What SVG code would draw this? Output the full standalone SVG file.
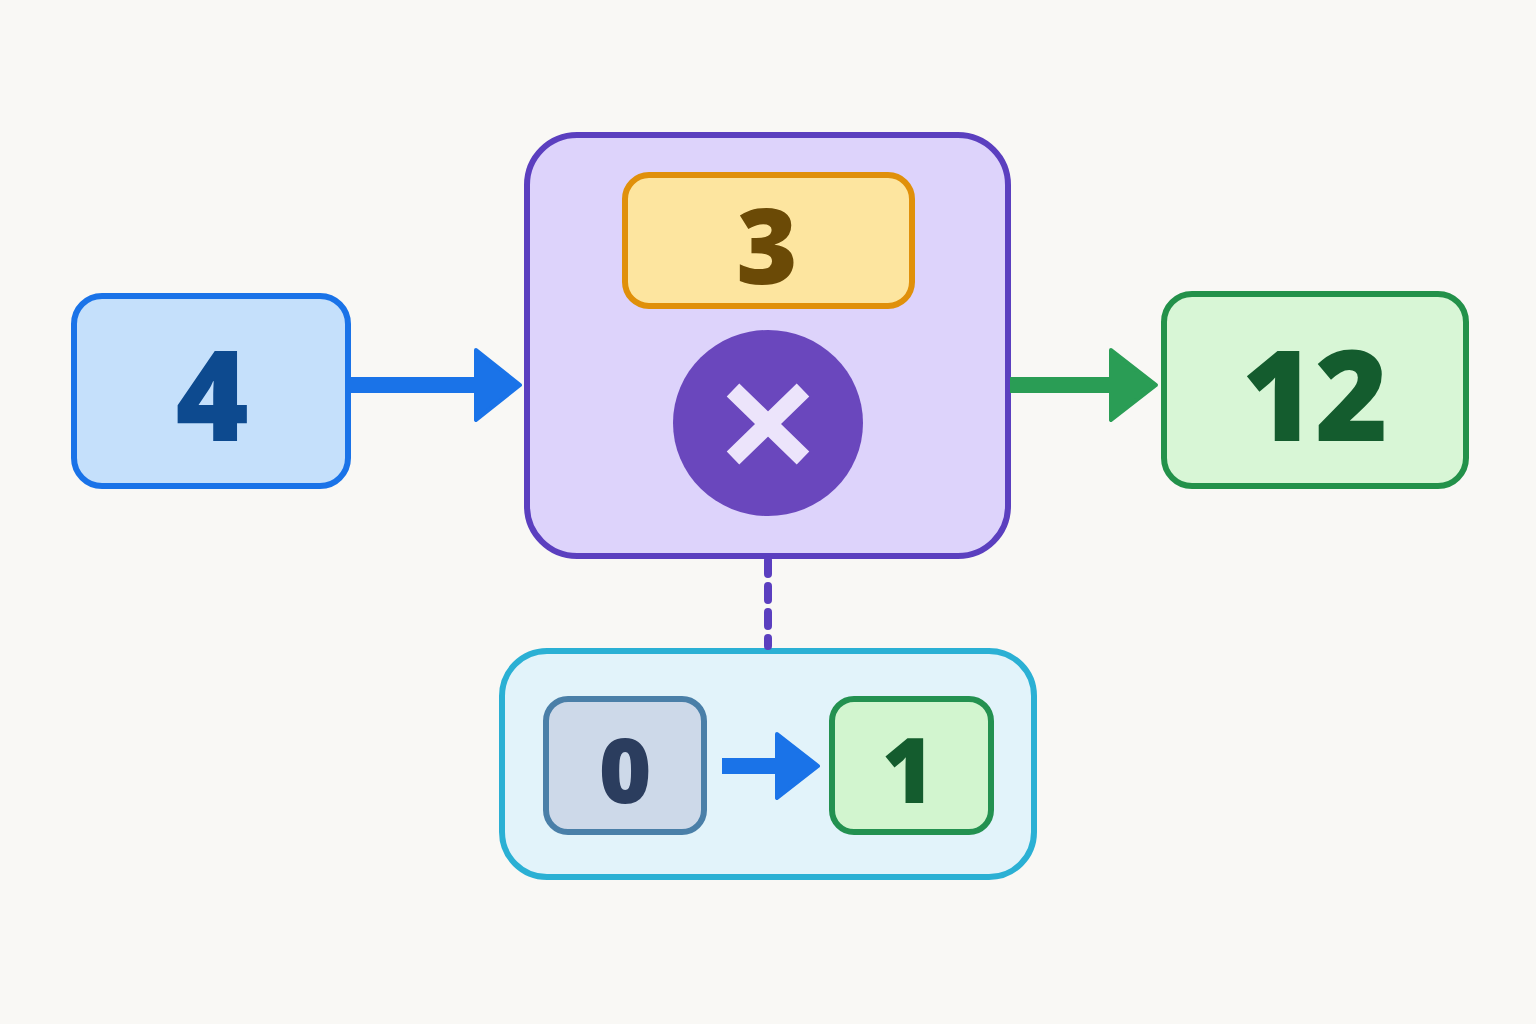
<svg xmlns="http://www.w3.org/2000/svg" width="1536" height="1024" viewBox="0 0 1536 1024">
<style>
.t{font-family:"Open Sans","DejaVu Sans",sans-serif;font-weight:800;text-anchor:middle;dominant-baseline:central}
</style>
<rect width="1536" height="1024" fill="#f9f8f5"/>
<g id="n4">
<rect x="74" y="296" width="274" height="190" rx="28" fill="#c5e0fb" stroke="#1a73e8" stroke-width="6"/>
<text class="t" x="212" y="392" font-size="125" fill="#0d4a8f">4</text>
</g>
<g id="mult">
<rect x="527" y="135" width="481" height="421" rx="50" fill="#ddd3fb" stroke="#5b3fbf" stroke-width="6"/>
<g id="n3">
<rect x="625" y="175" width="287" height="131" rx="24" fill="#fde59f" stroke="#e0900a" stroke-width="6"/>
<text class="t" x="767" y="243" font-size="105" fill="#6b4a06">3</text>
</g>
<ellipse cx="768" cy="423" rx="95" ry="93" fill="#6a47bd"/>
<path d="M733 390L803 458M803 390L733 458" stroke="#ece4fb" stroke-width="18"/>
</g>
<g id="n12">
<rect x="1164" y="294" width="302" height="192" rx="28" fill="#d8f6d6" stroke="#23914a" stroke-width="6"/>
<text class="t" x="1315" y="392" font-size="125" fill="#145c2e">12</text>
</g>
<g id="range">
<rect x="502" y="651" width="532" height="226" rx="45" fill="#e2f3fa" stroke="#2bb0d4" stroke-width="6"/>
<g id="n0">
<rect x="546" y="699" width="158" height="133" rx="22" fill="#cdd9e9" stroke="#4a7fa8" stroke-width="6"/>
<text class="t" x="625" y="768" font-size="90" fill="#2b3d5e">0</text>
</g>
<g id="n1">
<rect x="832" y="699" width="159" height="133" rx="22" fill="#d2f5cf" stroke="#239150" stroke-width="6"/>
<text class="t" x="908" y="768" font-size="90" fill="#145c2e">1</text>
</g>
</g>
<g id="connectors">
<path d="M350 385H478" stroke="#1a73e8" stroke-width="16" fill="none"/>
<path d="M476 350L520 385L476 420Z" fill="#1a73e8" stroke="#1a73e8" stroke-width="4" stroke-linejoin="round"/>
<path d="M1010 385H1113" stroke="#2a9d55" stroke-width="16" fill="none"/>
<path d="M1111 350L1156 385L1111 420Z" fill="#2a9d55" stroke="#2a9d55" stroke-width="4" stroke-linejoin="round"/>
<path d="M768 560V646" stroke="#5b3fbf" stroke-width="8" stroke-dasharray="14 12" stroke-linecap="round" fill="none"/>
<path d="M722 766H780" stroke="#1a73e8" stroke-width="16" fill="none"/>
<path d="M777 734L818 766L777 798Z" fill="#1a73e8" stroke="#1a73e8" stroke-width="4" stroke-linejoin="round"/>
</g>
</svg>
